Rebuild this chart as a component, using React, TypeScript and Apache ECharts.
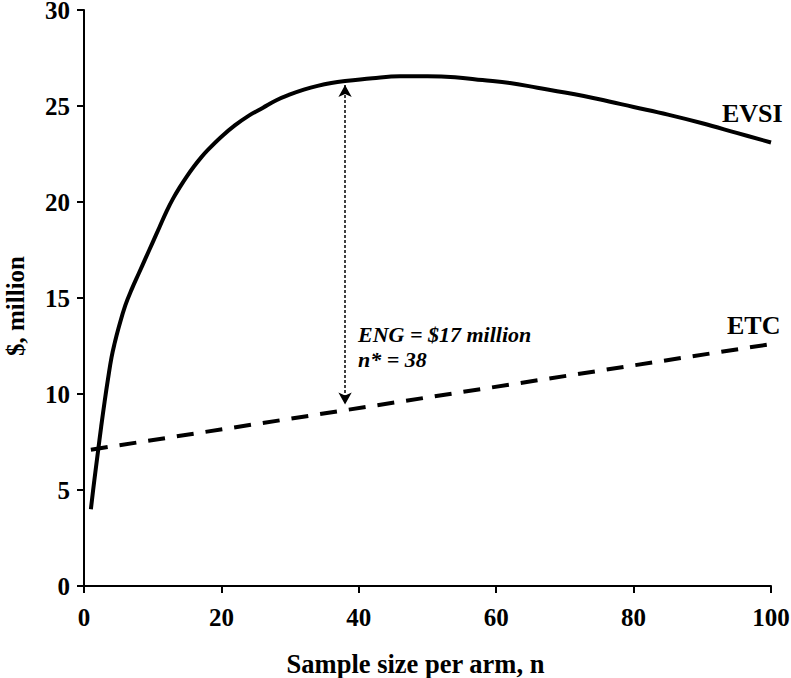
import React, { useEffect, useRef } from "react";
import * as echarts from "echarts";

const evsiN = [1, 1.5, 2, 2.5, 3, 3.5, 4, 4.5, 5, 6, 7, 8, 9, 10, 11, 12, 13, 14, 15, 16, 17, 18, 20, 22, 24, 26, 28, 30, 32, 34, 36, 38, 42, 46, 50, 54, 58, 62, 66, 70, 75, 80, 85, 90, 95, 100];
const evsiV = [4.0, 5.5, 6.9, 8.3, 9.6, 10.8, 11.9, 12.7, 13.4, 14.6, 15.5, 16.3, 17.1, 17.9, 18.7, 19.5, 20.2, 20.8, 21.35, 21.85, 22.3, 22.7, 23.4, 24.0, 24.5, 24.9, 25.3, 25.6, 25.85, 26.05, 26.2, 26.3, 26.45, 26.55, 26.55, 26.5, 26.35, 26.2, 25.95, 25.7, 25.35, 24.95, 24.55, 24.1, 23.6, 23.1];
const etcN = [1, 100];
const etcV = [7.1, 12.6];
const arrowN = 38;
const arrowTop = 26.1;
const arrowBottom = 9.45;
const xTicks = { min: 0, max: 100, interval: 20 };
const yTicks = { min: 0, max: 30, interval: 5 };

const FONT = "'Liberation Serif', 'Times New Roman', serif";

export default function App() {
  const ref = useRef<HTMLDivElement>(null);
  useEffect(() => {
    if (!ref.current) return;
    const chart = echarts.init(ref.current, null, { renderer: "svg" });
    const axisCommon = {
      axisLine: { show: true, lineStyle: { color: "#000", width: 2 } },
      axisTick: { show: true, length: 7, lineStyle: { color: "#000", width: 2 } },
      splitLine: { show: false },
    };
    chart.setOption({
      animation: false,
      backgroundColor: "#fff",
      grid: { left: 84, right: 20, top: 10, bottom: 92, containLabel: false, outerBoundsMode: "none" },
      xAxis: {
        type: "value",
        ...xTicks,
        ...axisCommon,
        name: "Sample size per arm, n",
        nameLocation: "middle",
        nameGap: 64,
        nameTextStyle: {
          fontFamily: FONT,
          fontWeight: "bold",
          fontSize: 26.5,
          color: "#000",
          padding: [0, 24, 0, 0],
        },
        axisLabel: { fontFamily: FONT, fontWeight: "bold", fontSize: 25, color: "#000", margin: 19 },
      },
      yAxis: {
        type: "value",
        ...yTicks,
        ...axisCommon,
        name: "$, million",
        nameLocation: "middle",
        nameGap: 58,
        nameTextStyle: {
          fontFamily: FONT,
          fontWeight: "bold",
          fontSize: 25,
          lineHeight: 22,
          color: "#000",
          padding: [0, 16, 0, 0],
        },
        axisLabel: {
          fontFamily: FONT,
          fontWeight: "bold",
          fontSize: 25,
          lineHeight: 19,
          color: "#000",
          margin: 14,
        },
      },
      series: [
        {
          name: "EVSI",
          type: "line",
          data: evsiN.map((n, i) => [n, evsiV[i]]),
          smooth: 0.4,
          showSymbol: false,
          lineStyle: { color: "#000", width: 4 },
          silent: true,
        },
        {
          name: "ETC",
          type: "line",
          data: etcN.map((n, i) => [n, etcV[i]]),
          showSymbol: false,
          lineStyle: { color: "#000", width: 4, type: [17, 12] },
          silent: true,
          markLine: {
            silent: true,
            symbol: ["arrow", "arrow"],
            symbolSize: [10, 12],
            label: { show: false },
            lineStyle: { color: "#000", width: 1.5, type: [3, 2] },
            data: [[{ coord: [arrowN, arrowTop] }, { coord: [arrowN, arrowBottom] }]],
          },
        },
      ],
      graphic: [
        {
          type: "text",
          left: 722,
          top: 100,
          style: { text: "EVSI", font: `bold 26px ${FONT}`, fill: "#000" },
        },
        {
          type: "text",
          left: 727,
          top: 312,
          style: { text: "ETC", font: `bold 26px ${FONT}`, fill: "#000" },
        },
        {
          type: "text",
          left: 358,
          top: 322,
          style: {
            text: "ENG = $17 million\nn* = 38",
            font: `italic bold 22px ${FONT}`,
            lineHeight: 25,
            fill: "#000",
          },
        },
      ],
    });
    return () => chart.dispose();
  }, []);
  return (
    <div
      ref={ref}
      style={{ position: "absolute", left: 0, top: 0, width: 791, height: 678 }}
    />
  );
}
